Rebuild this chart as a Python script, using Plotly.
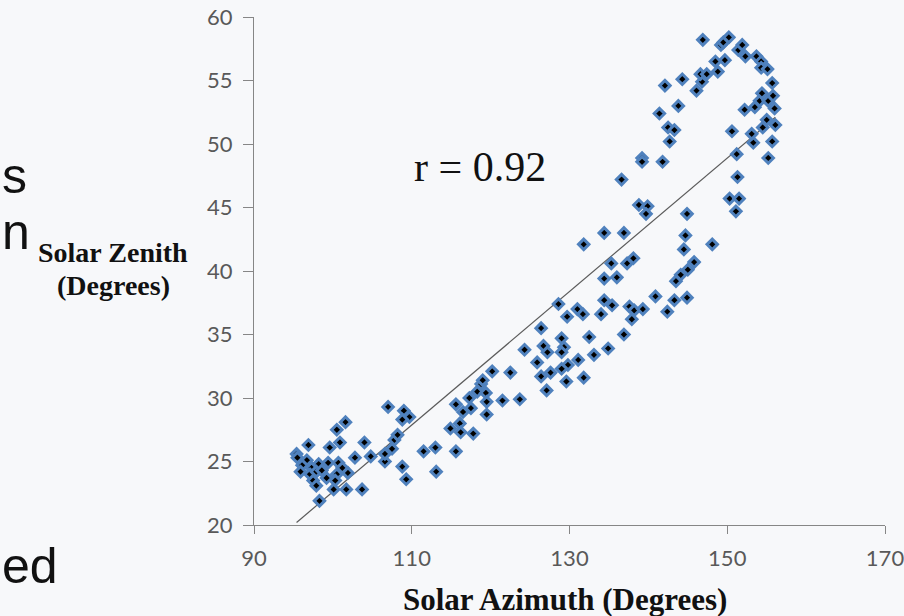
import plotly.graph_objects as go

# ---- data ----
azimuth = [95.4, 95.5, 96.7, 96.1, 96.9, 97.3, 98.2, 99.4, 100.7, 97.1, 97.5, 97.9, 97.9, 99.2, 100.5,
           100.3, 101.9, 100.1, 101.7, 103.7, 98.3, 99.6, 100.9, 100.5, 101.6, 104.0, 102.8, 104.8,
           106.6, 106.6, 107.5, 107.8, 108.2, 108.8, 109.3, 107.0, 109.0, 109.7, 108.8, 111.5, 113.0,
           113.1, 115.6, 115.6, 116.5, 117.3, 117.5, 118.3, 116.1, 114.9, 116.2, 117.8, 118.8, 119.0,
           119.4, 119.5, 119.5, 120.2, 122.5, 121.5, 123.7, 124.3, 125.9, 126.4, 126.7, 127.2, 126.4,
           127.6, 127.1, 128.6, 129.0, 129.3, 129.0, 129.8, 129.0, 129.7, 131.0, 131.7, 131.1, 131.8,
           129.6, 132.5, 133.1, 134.0, 134.4, 135.4, 134.9, 136.9, 137.6, 138.2, 137.9, 139.3, 140.9,
           134.4, 136.0, 135.3, 137.3, 138.1, 131.8, 134.4, 136.9, 138.8, 139.9, 139.7, 136.6, 142.4,
           143.3, 144.9, 143.5, 144.1, 145.0, 145.8, 144.5, 144.7, 144.9, 148.1, 150.3, 151.5, 151.1,
           151.3, 151.2, 155.2, 153.3, 155.7, 150.6, 153.1, 154.5, 155.0, 156.1, 152.2, 153.5, 156.0,
           154.1, 155.2, 154.4, 155.8, 155.7, 139.2, 139.2, 141.8, 142.7, 142.5, 143.3, 141.4, 143.8,
           142.1, 144.3, 146.1, 146.8, 146.6, 147.4, 148.8, 148.5, 149.7, 146.9, 149.2, 149.5, 150.2,
           151.4, 151.9, 152.3, 153.7, 154.3, 154.3, 155.1, 98.6, 101.2, 95.9]
zenith = [25.6, 25.3, 25.1, 24.7, 26.3, 24.5, 24.8, 24.9, 24.9, 24.0, 23.5, 23.1, 24.2, 23.7, 24.0,
          23.5, 24.1, 22.8, 22.8, 22.8, 21.9, 26.1, 26.5, 27.5, 28.1, 26.5, 25.3, 25.4,
          25.0, 25.6, 26.0, 26.7, 27.1, 24.6, 23.6, 29.3, 29.0, 28.5, 28.3, 25.8, 26.1,
          24.2, 25.8, 29.5, 28.9, 30.0, 29.2, 30.5, 28.0, 27.6, 27.3, 27.2, 31.1, 31.4,
          30.4, 29.7, 28.7, 32.1, 32.0, 29.8, 29.9, 33.8, 32.8, 35.5, 34.1, 33.6, 31.7,
          32.0, 30.6, 37.4, 34.7, 34.0, 33.6, 32.6, 32.3, 36.4, 37.0, 36.6, 33.0, 31.6,
          31.3, 34.8, 33.4, 36.6, 37.7, 37.3, 33.9, 35.0, 37.2, 36.9, 36.2, 37.0, 38.0,
          39.4, 39.5, 40.6, 40.6, 41.0, 42.1, 43.0, 43.0, 45.2, 45.1, 44.5, 47.2, 36.8,
          37.7, 37.9, 39.2, 39.7, 40.1, 40.7, 41.7, 42.8, 44.5, 42.1, 45.7, 45.7, 44.7,
          47.4, 49.2, 48.9, 50.1, 50.2, 51.0, 50.8, 51.3, 51.9, 51.5, 52.7, 52.9, 52.8,
          53.4, 53.4, 54.0, 53.8, 54.8, 48.9, 48.6, 48.6, 50.2, 51.3, 51.1, 52.4, 53.0,
          54.6, 55.1, 54.2, 54.9, 55.5, 55.5, 55.7, 56.5, 56.6, 58.2, 57.8, 58.0, 58.4,
          57.4, 57.8, 56.9, 56.9, 56.5, 56.0, 55.9, 24.3, 24.5, 24.2]

trend_azimuth = [95.4, 156.1]
trend_zenith = [20.2, 52.1]

x_tick_values = [90, 110, 130, 150, 170]
y_tick_values = [20, 25, 30, 35, 40, 45, 50, 55, 60]

r_label = "r = 0.92"
x_title = "Solar Azimuth (Degrees)"
y_title_lines = ["Solar Zenith", "(Degrees)"]
slide_fragments = ["s", "n", "ed"]

# ---- layout geometry (pixels) ----
W, H = 904, 616
L, R, T, B = 254, 19, 17, 91
PW, PH = W - L - R, H - T - B


def px_x(px):
    return (px - L) / PW


def px_y(py):
    return (H - B - py) / PH


fig = go.Figure()

fig.add_trace(go.Scatter(
    x=trend_azimuth, y=trend_zenith, mode="lines",
    line=dict(color="#5a5a5a", width=1.2), hoverinfo="skip", showlegend=False))

fig.add_trace(go.Scatter(
    x=azimuth, y=zenith, mode="markers",
    marker=dict(symbol="diamond", size=8, color="black",
                line=dict(color="#4f81bd", width=3)),
    showlegend=False))

axis_common = dict(
    showgrid=False, zeroline=False, showline=True, linecolor="#868686", linewidth=1,
    ticks="outside", tickcolor="#868686", tickwidth=1, automargin=False,
    ticklabeloverflow="allow",
    tickfont=dict(family="Lato", size=22, color="#595959"),
)

fig.update_xaxes(range=[90, 170], tickvals=x_tick_values, ticklen=8,
                 ticklabelstandoff=6, **axis_common)
fig.update_yaxes(range=[20, 60], tickvals=y_tick_values, ticklen=10,
                 ticklabelstandoff=6, **axis_common)

serif_bold = dict(family="Liberation Serif", size=28, color="#111111")

annotations = [
    dict(text=r_label, x=px_x(480), y=px_y(167), xref="paper", yref="paper",
         showarrow=False, xanchor="center", yanchor="middle",
         font=dict(family="Liberation Serif", size=42, color="#111111")),
    dict(text="<b>" + x_title + "</b>", x=px_x(565), y=px_y(599), xref="paper", yref="paper",
         showarrow=False, xanchor="center", yanchor="middle",
         font=dict(family="Liberation Serif", size=31, color="#111111")),
]
for line, cy in zip(y_title_lines, [253, 285]):
    annotations.append(dict(text="<b>" + line + "</b>", x=px_x(113), y=px_y(cy),
                            xref="paper", yref="paper", showarrow=False,
                            xanchor="center", yanchor="middle", font=serif_bold))

frag_pos = [(0, 176), (0, 232), (0, 566)]
for txt, (lx, cy) in zip(slide_fragments, frag_pos):
    annotations.append(dict(text=txt, x=px_x(lx), y=px_y(cy), xref="paper", yref="paper",
                            showarrow=False, xanchor="left", yanchor="middle",
                            font=dict(family="Liberation Sans", size=50, color="#111111")))

fig.update_layout(
    width=W, height=H,
    margin=dict(l=L, r=R, t=T, b=B),
    paper_bgcolor="#f7f8fa", plot_bgcolor="#f7f8fa",
    annotations=annotations,
)

fig.write_html("out.html")
